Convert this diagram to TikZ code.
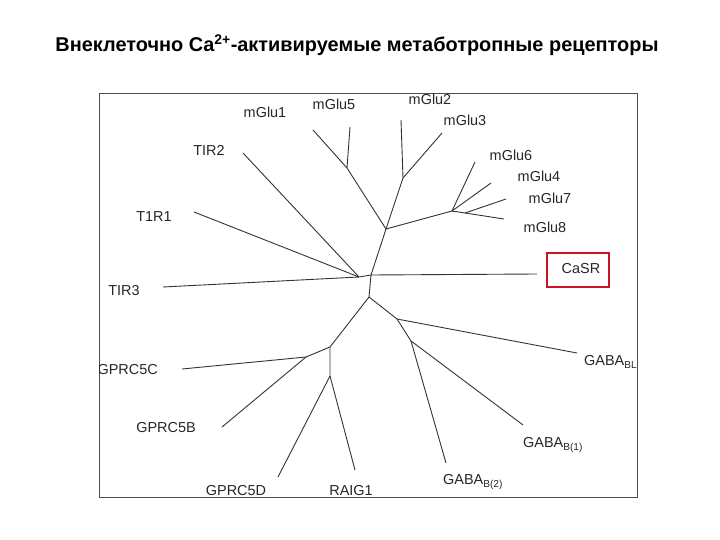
\documentclass[tikz,border=0pt]{standalone}
\usepackage{fontspec}
\setmainfont{Liberation Sans}
\definecolor{framegray}{RGB}{70,78,95}
\definecolor{boxred}{RGB}{200,20,35}
\tikzset{
  branch/.style={draw=black!80, line width=0.9bp},
  leaf/.style={font=\fontsize{14.5}{16}\selectfont, inner sep=0pt, text=black!85},
}
\begin{document}
\begin{tikzpicture}[x=1bp,y=-1bp]
    \useasboundingbox (0,0) rectangle (720,540);

    \node[font=\bfseries\fontsize{20}{23}\selectfont] (title) at (357,45) {Внеклеточно Ca\textsuperscript{2+}-активируемые метаботропные рецепторы};

    \draw [framegray, line width=1bp] (99,94) rectangle (637,497);

    % inner nodes of the tree
    \coordinate (nL) at (359,277);
    \coordinate (c0) at (371,275);
    \coordinate (c1) at (369,297);
    \coordinate (nA) at (386,229);
    \coordinate (nM15) at (347,168);
    \coordinate (nM23) at (403,178);
    \coordinate (nM48) at (452,211);
    \coordinate (nM78) at (465,213);
    \coordinate (nG5) at (330,347);
    \coordinate (nG5b) at (306,357);
    \coordinate (nG5d) at (330,376);
    \coordinate (nGB) at (397,319);
    \coordinate (nGB12) at (411,341);

    % leaf ends
    \coordinate (eT1R1) at (194,212);
    \coordinate (eTIR2) at (243,153);
    \coordinate (eTIR3) at (163,287);
    \coordinate (eGlu1) at (313,130);
    \coordinate (eGlu5) at (350,127);
    \coordinate (eGlu2) at (401,120);
    \coordinate (eGlu3) at (442,133);
    \coordinate (eGlu6) at (475,162);
    \coordinate (eGlu4) at (491,183);
    \coordinate (eGlu7) at (506,199);
    \coordinate (eGlu8) at (504,219);
    \coordinate (eCaSR) at (537,274);
    \coordinate (eG5C) at (182,369);
    \coordinate (eG5B) at (222,427);
    \coordinate (eG5D) at (278,477);
    \coordinate (eRAIG) at (355,470);
    \coordinate (eGBL) at (577,353);
    \coordinate (eGB1) at (523,425);
    \coordinate (eGB2) at (446,463);

    % branches
    \draw [branch] (eT1R1) -- (nL);
    \draw [branch] (eTIR2) -- (nL);
    \draw [branch] (eTIR3) -- (nL) -- (c0);
    \draw [branch] (c0) -- (eCaSR);
    \draw [branch] (c0) -- (nA);
    \draw [branch] (nA) -- (nM15) -- (eGlu1);
    \draw [branch] (nM15) -- (eGlu5);
    \draw [branch] (nA) -- (nM23) -- (eGlu2);
    \draw [branch] (nM23) -- (eGlu3);
    \draw [branch] (nA) -- (nM48) -- (eGlu6);
    \draw [branch] (nM48) -- (eGlu4);
    \draw [branch] (nM48) -- (nM78) -- (eGlu7);
    \draw [branch] (nM78) -- (eGlu8);
    \draw [branch] (c0) -- (c1);
    \draw [branch] (c1) -- (nG5) -- (nG5b) -- (eG5C);
    \draw [branch] (nG5b) -- (eG5B);
    \draw [branch] (nG5) -- (nG5d) -- (eG5D);
    \draw [branch] (nG5d) -- (eRAIG);
    \draw [branch] (c1) -- (nGB) -- (eGBL);
    \draw [branch] (nGB) -- (nGB12) -- (eGB1);
    \draw [branch] (nGB12) -- (eGB2);

    % labels, cut at the frame
    \begin{scope}
    \clip (99,94) rectangle (637,497);
    \node[leaf] (mglu1) at (265,112) {mGlu1};
    \node[leaf] (mglu5) at (334,104) {mGlu5};
    \node[leaf] (mglu2) at (430,99) {mGlu2};
    \node[leaf] (mglu3) at (465,120) {mGlu3};
    \node[leaf] (mglu6) at (511,155) {mGlu6};
    \node[leaf] (mglu4) at (539,176) {mGlu4};
    \node[leaf] (mglu7) at (550,198) {mGlu7};
    \node[leaf] (mglu8) at (545,227) {mGlu8};
    \node[leaf] (tir2) at (209,150) {TIR2};
    \node[leaf] (t1r1) at (154,217) {T1R1};
    \node[leaf] (tir3) at (124,291) {TIR3};
    \node[leaf, anchor=east] (gprc5c) at (158,370) {GPRC5C};
    \node[leaf] (gprc5b) at (166,428) {GPRC5B};
    \node[leaf] (gprc5d) at (236,491) {GPRC5D};
    \node[leaf] (raig1) at (351,491) {RAIG1};
    \node[leaf, anchor=west] (gabbl) at (584,362) {GABA\textsubscript{BL}};
    \node[leaf, anchor=west] (gabb1) at (523,445) {GABA\textsubscript{B(1)}};
    \node[leaf, anchor=west] (gabb2) at (443,482) {GABA\textsubscript{B(2)}};
    \end{scope}

    \node[leaf] (casr) at (581,269) {CaSR};
    \draw [boxred, line width=2bp] (547,253) rectangle (609,287);

\end{tikzpicture}
\end{document}
